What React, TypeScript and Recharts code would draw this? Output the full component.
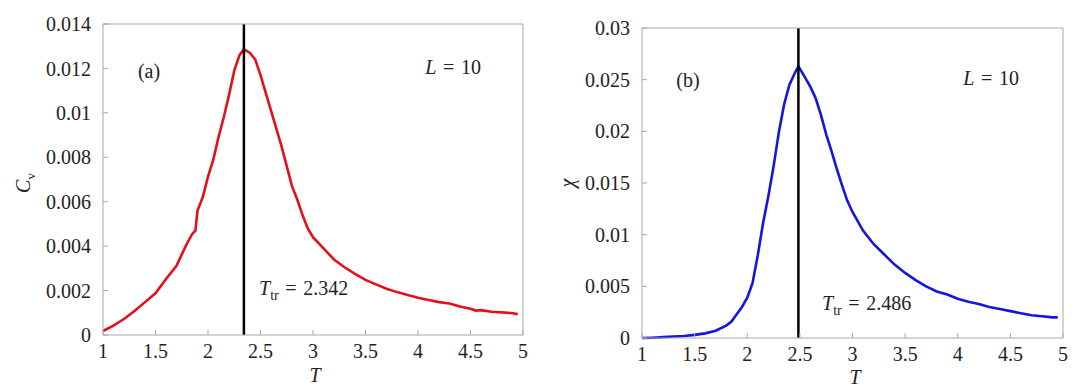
import React from 'react';
import { LineChart, Line, XAxis, YAxis, ReferenceLine } from 'recharts';

// panel (a): specific heat vs temperature
const tempsA = [
  1.0, 1.1, 1.2, 1.3, 1.4, 1.5, 1.6, 1.7, 1.8, 1.85, 1.88, 1.9, 1.95, 2.0, 2.05, 2.1, 2.15, 2.2, 2.25, 2.3,
  2.342, 2.4, 2.45, 2.5, 2.55, 2.6, 2.65, 2.7, 2.75, 2.8, 2.85, 2.9, 2.95, 3.0, 3.1, 3.2, 3.3, 3.4, 3.5,
  3.6, 3.7, 3.8, 3.9, 4.0, 4.1, 4.2, 4.3, 4.4, 4.5, 4.55, 4.6, 4.7, 4.8, 4.9, 4.95,
];
const cvValues = [
  0.00018, 0.00042, 0.00072, 0.00108, 0.00148, 0.00188, 0.00252, 0.00312, 0.00412, 0.00455, 0.0047, 0.0056,
  0.0062, 0.00713, 0.00788, 0.0089, 0.0098, 0.0108, 0.0119, 0.0126, 0.01286, 0.0127, 0.0124, 0.0117, 0.0109,
  0.0101, 0.0093, 0.0085, 0.0076, 0.0067, 0.0061, 0.0054, 0.0048, 0.0044, 0.0039, 0.0034, 0.00305, 0.00275,
  0.00248, 0.00228, 0.00208, 0.00193, 0.0018, 0.00168, 0.00158, 0.00148, 0.00142, 0.00128, 0.00118, 0.0011,
  0.00112, 0.00105, 0.00102, 0.00098, 0.00094,
];

// panel (b): susceptibility vs temperature
const tempsB = [
  1.0, 1.1, 1.2, 1.3, 1.4, 1.5, 1.6, 1.7, 1.8, 1.85, 1.9, 1.95, 2.0, 2.05, 2.1, 2.15, 2.2, 2.25, 2.3, 2.35,
  2.4, 2.45, 2.486, 2.55, 2.6, 2.65, 2.7, 2.75, 2.8, 2.85, 2.9, 2.95, 3.0, 3.1, 3.2, 3.3, 3.4, 3.5, 3.6,
  3.7, 3.8, 3.9, 4.0, 4.1, 4.2, 4.3, 4.4, 4.5, 4.6, 4.7, 4.8, 4.9, 4.95,
];
const chiValues = [
  0, 0.00003, 0.00008, 0.00014, 0.0002, 0.0003, 0.00045, 0.0007, 0.0012, 0.0016, 0.0023, 0.003, 0.0039,
  0.0053, 0.008, 0.0111, 0.0137, 0.0166, 0.0199, 0.0226, 0.0245, 0.0256, 0.0263, 0.0252, 0.0243, 0.0232,
  0.0216, 0.0197, 0.0181, 0.0164, 0.0148, 0.0133, 0.0122, 0.0104, 0.0091, 0.0081, 0.0071, 0.0063, 0.0056,
  0.005, 0.0045, 0.0042, 0.0038, 0.0035, 0.0033, 0.003, 0.0028, 0.0026, 0.0024, 0.0022, 0.0021, 0.002, 0.002,
];

const tTicks = [1, 1.5, 2, 2.5, 3, 3.5, 4, 4.5, 5];
const cvTicks = [0, 0.002, 0.004, 0.006, 0.008, 0.01, 0.012, 0.014];
const chiTicks = [0, 0.005, 0.01, 0.015, 0.02, 0.025, 0.03];

const TR_A = 2.342;
const TR_B = 2.486;

const FONT = "'Liberation Serif', 'Times New Roman', Times, 'DejaVu Serif', serif";
const FRAME = '#a8a8a8';
const tickStyle = { fill: '#222', fontSize: 20, fontFamily: FONT };
const SP = '\u2004'; // a bit wider than a normal space, like TeX math spacing

const toRows = (ts: number[], vs: number[]) => ts.map((t, i) => ({ T: t, v: vs[i] }));

function Note({ x, y, children, anchor = 'center', rotate = 0 }: any) {
  const tx = anchor === 'center' ? '-50%' : '0';
  return (
    <div
      style={{
        position: 'absolute',
        left: x,
        top: y,
        transform: `translate(${tx}, -50%) rotate(${rotate}deg)`,
        fontFamily: FONT,
        fontSize: 20,
        color: '#222',
        whiteSpace: 'nowrap',
        lineHeight: 1,
      }}
    >
      {children}
    </div>
  );
}

function Panel({ rows, ticks, max, color, tr, margin, yWidth }: any) {
  return (
    <LineChart width={540} height={389} data={rows} margin={margin}>
      <XAxis
        xAxisId="b"
        dataKey="T"
        type="number"
        domain={[1, 5]}
        ticks={tTicks}
        height={40}
        stroke={FRAME}
        tickSize={-5}
        tickMargin={14}
        tick={tickStyle}
      />
      <XAxis
        xAxisId="t"
        orientation="top"
        type="number"
        domain={[1, 5]}
        ticks={tTicks}
        height={1}
        stroke={FRAME}
        tickSize={-5}
        tick={false}
      />
      <YAxis
        yAxisId="l"
        type="number"
        domain={[0, max]}
        ticks={ticks}
        width={yWidth}
        stroke={FRAME}
        tickSize={-5}
        tickMargin={17}
        tick={tickStyle}
      />
      <YAxis
        yAxisId="r"
        orientation="right"
        type="number"
        domain={[0, max]}
        ticks={ticks}
        width={1}
        stroke={FRAME}
        tickSize={-5}
        tick={false}
      />
      <Line
        xAxisId="b"
        yAxisId="l"
        type="linear"
        dataKey="v"
        stroke={color}
        strokeWidth={2.6}
        dot={false}
        isAnimationActive={false}
      />
      <ReferenceLine xAxisId="b" yAxisId="l" x={tr} stroke="#000" strokeWidth={2.5} />
    </LineChart>
  );
}

export default function App() {
  return (
    <div style={{ position: 'absolute', left: 0, top: 0, width: 1080, height: 389, background: '#fff', fontFamily: FONT }}>
      <div style={{ position: 'absolute', left: 0, top: 0 }}>
        <Panel
          rows={toRows(tempsA, cvValues)}
          ticks={cvTicks}
          max={0.014}
          color="#e3101c"
          tr={TR_A}
          yWidth={103}
          margin={{ top: 23, right: 16, bottom: 14, left: 0 }}
        />
      </div>
      <div style={{ position: 'absolute', left: 540, top: 0 }}>
        <Panel
          rows={toRows(tempsB, chiValues)}
          ticks={chiTicks}
          max={0.03}
          color="#1515e0"
          tr={TR_B}
          yWidth={102}
          margin={{ top: 27, right: 16, bottom: 11, left: 0 }}
        />
      </div>

      <Note x={149} y={71}>(a)</Note>
      <Note x={453} y={67}><i>L</i>{SP}={SP}10</Note>
      <Note x={259} y={290} anchor="left">
        <i>T</i><sub style={{ fontSize: 14 }}>tr</sub>{SP}={SP}2.342
      </Note>
      <Note x={25} y={183} rotate={-90}>
        <i>C</i><sub style={{ fontSize: 13 }}>v</sub>
      </Note>
      <Note x={315} y={375}><i>T</i></Note>

      <Note x={688} y={80}>(b)</Note>
      <Note x={991} y={78}><i>L</i>{SP}={SP}10</Note>
      <Note x={822} y={305} anchor="left">
        <i>T</i><sub style={{ fontSize: 14 }}>tr</sub>{SP}={SP}2.486
      </Note>
      <Note x={567} y={183} rotate={-90}><i>χ</i></Note>
      <Note x={855} y={377}><i>T</i></Note>
    </div>
  );
}
